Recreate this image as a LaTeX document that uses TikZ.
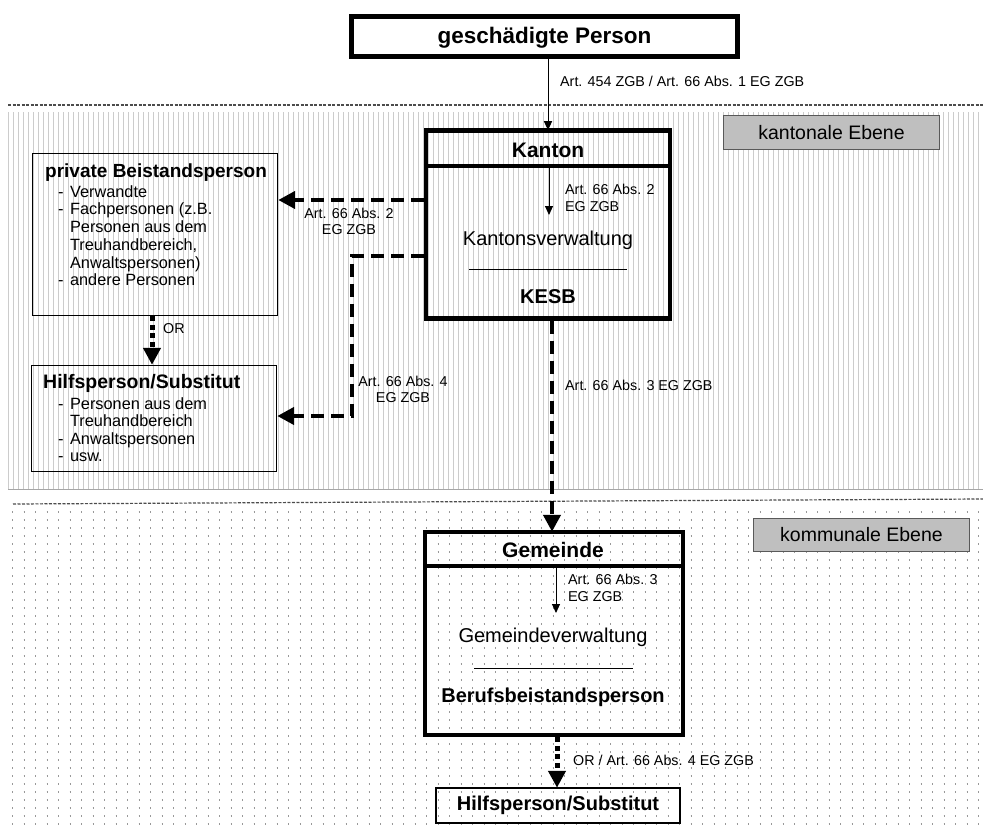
\documentclass[tikz,border=0pt]{standalone}
\usepackage{fontspec}
\setmainfont{Liberation Sans}
\usetikzlibrary{arrows.meta}
\begin{document}
\begin{tikzpicture}[x=1pt,y=-1pt,
  thickbox/.style={draw, line width=4.5pt, inner sep=0pt},
  thinbox/.style={draw, line width=1.4pt, inner sep=0pt},
  midbox/.style={draw, line width=2.5pt, inner sep=0pt},
  levelbox/.style={draw=black!65, fill=black!25, line width=1.5pt, inner sep=0pt,
     font=\fontsize{19.5}{22}\selectfont},
  headtext/.style={inner sep=0pt, font=\bfseries\fontsize{21}{24}\selectfont},
  boldtext/.style={inner sep=0pt, font=\bfseries\fontsize{20}{23}\selectfont},
  regtext/.style={inner sep=0pt, font=\fontsize{20}{23}\selectfont},
  smalllabel/.style={inner sep=0pt, font=\fontsize{14.3}{16.5}\selectfont},
  thinarrow/.style={line width=1pt, -{Triangle[length=9pt,width=8pt]}},
  bigdash/.style={line width=4.5pt, dash pattern=on 13pt off 7pt,
     -{Triangle[length=17pt,width=17pt]}},
  bigdot/.style={line width=5pt, dash pattern=on 5pt off 3.5pt,
     -{Triangle[length=17pt,width=17pt]}},
  sepline/.style={draw=black!70, line width=1.2pt, dash pattern=on 3pt off 1.5pt},
]
\useasboundingbox (0,0) rectangle (983,832);
\fill[white] (0,0) rectangle (983,832);

% background: cantonal (stripes) and communal (dots) levels
\draw[black!20, line width=377pt, dash pattern=on 1.2pt off 3.8pt] (8,300.5) -- (983,300.5);
\draw[black!35, line width=1pt] (8,489) -- (983,489);
\foreach \yy in {512,520,...,830}
  \draw[black!40, line width=1.3pt, dash pattern=on 1.3pt off 10.2pt] (12,\yy) -- (983,\yy);
\draw[sepline] (8,105) -- (983,105);
\draw[sepline] (13,504) -- (983,499);

% level labels
\node[levelbox, minimum width=216pt, minimum height=34pt] (kant) at (831.5,132.5) {kantonale Ebene};
\node[levelbox, minimum width=216pt, minimum height=33pt] (komm) at (861.5,535) {kommunale Ebene};

% top box
\node[thickbox, minimum width=386pt, minimum height=40pt] (gp) at (544.5,36.5) {};
\node[inner sep=0pt, font=\bfseries\fontsize{22.5}{25}\selectfont] (gpT) at (544.5,38) {geschädigte Person};

% Kanton box
\node[thickbox, minimum width=244pt, minimum height=188pt] (kanton) at (548,224.5) {};
\coordinate (kh) at (0,166);
\draw[line width=4.5pt] (kanton.west |- kh) -- (kanton.east |- kh);
\node[headtext] (kantonT) at (548,150) {Kanton};
\node[regtext] (kverw) at (548,240) {Kantonsverwaltung};
\draw[line width=0.8pt] (469,269) -- (627,269);
\node[boldtext] (kesb) at (548,297) {KESB};
\coordinate (ka1) at (549,168);
\coordinate (ka2) at (549,215);
\draw[thinarrow] (ka1) -- (ka2);
\node[smalllabel, anchor=north west, align=left] (kl) at (565,184) {Art. 66 Abs. 2\\EG ZGB};

% Gemeinde box
\node[thickbox, minimum width=258pt, minimum height=203pt] (gem) at (554,633.5) {};
\coordinate (gh) at (0,566);
\draw[line width=4.5pt] (gem.west |- gh) -- (gem.east |- gh);
\node[headtext] (gemT) at (553,550) {Gemeinde};
\node[regtext] (gverw) at (553,637) {Gemeindeverwaltung};
\draw[line width=0.8pt] (474,668) -- (633,668);
\node[boldtext] (beruf) at (553,697) {Berufsbeistandsperson};
\coordinate (ga1) at (556,568);
\coordinate (ga2) at (556,613);
\draw[thinarrow] (ga1) -- (ga2);
\node[smalllabel, anchor=north west, align=left] (gl) at (568,574) {Art. 66 Abs. 3\\EG ZGB};

% bottom box
\node[midbox, boldtext, minimum width=244pt, minimum height=35pt] (bb) at (558,805.5) {Hilfsperson/Substitut};

% private Beistandsperson box
\node[thinbox, minimum width=245pt, minimum height=162pt] (pb) at (155,234.5) {};
\node[inner sep=0pt, anchor=base west, font=\bfseries\fontsize{19}{21}\selectfont] (pbT) at (45,178) {private Beistandsperson};
\node[inner sep=0pt, anchor=base west, font=\fontsize{16.3}{17.8}\selectfont] (pbL) at (58,197)
  {\begin{tabular}[t]{@{}l@{\hspace{6.5pt}}l@{}}
   - & Verwandte\\
   - & Fachpersonen (z.B.\\
     & Personen aus dem\\
     & Treuhandbereich,\\
     & Anwaltspersonen)\\
   - & andere Personen
   \end{tabular}};

% Hilfsperson/Substitut box (cantonal)
\node[thinbox, minimum width=245pt, minimum height=106pt] (hs) at (154,418.5) {};
\node[inner sep=0pt, anchor=base west, font=\bfseries\fontsize{19.5}{21}\selectfont] (hsT) at (43,388) {Hilfsperson/Substitut};
\node[inner sep=0pt, anchor=base west, font=\fontsize{16.3}{17.6}\selectfont] (hsL) at (58,409)
  {\begin{tabular}[t]{@{}l@{\hspace{6.5pt}}l@{}}
   - & Personen aus dem\\
     & Treuhandbereich\\
   - & Anwaltspersonen\\
   - & usw.
   \end{tabular}};

% connectors
\draw[thinarrow] (kanton.north |- gp.south) -- ([yshift=-2pt]kanton.north);
\node[smalllabel, anchor=west] (l1) at (560,81) {Art. 454 ZGB / Art. 66 Abs. 1 EG ZGB};

\coordinate (y200) at (0,200);
\draw[bigdash] (kanton.west |- y200) -- (pb.east |- y200);
\node[smalllabel, align=center] (l2) at (349,221.5) {Art. 66 Abs. 2\\EG ZGB};

\coordinate (y256) at (0,256);
\coordinate (c4) at (352,416);
\draw[bigdash] (kanton.west |- y256) -| (c4) -- (hs.east |- c4);
\node[smalllabel, align=center] (l4) at (403,389.5) {Art. 66 Abs. 4\\EG ZGB};

\coordinate (xor) at (152,0);
\draw[bigdot] (pb.south -| xor) -- (hs.north -| xor);
\node[smalllabel, anchor=west] (lor) at (163,329) {OR};

\coordinate (xk) at (552,0);
\draw[bigdash] (kanton.south -| xk) -- ([yshift=-2pt]gem.north -| xk);
\node[smalllabel, anchor=west] (l3) at (565,385) {Art. 66 Abs. 3 EG ZGB};

\coordinate (xd) at (557,0);
\draw[bigdot] (gem.south -| xd) -- ([yshift=-1pt]bb.north -| xd);
\node[smalllabel, anchor=west] (l5) at (573,760) {OR / Art. 66 Abs. 4 EG ZGB};
\end{tikzpicture}
\end{document}
